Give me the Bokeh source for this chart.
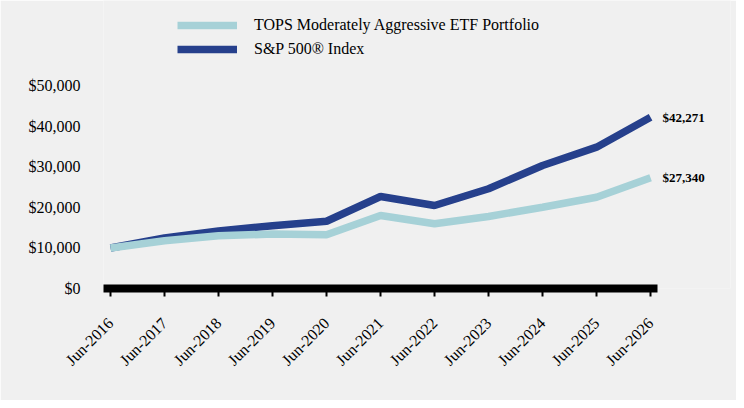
import math
from bokeh.plotting import figure
from bokeh.models import Range1d, FixedTicker, Legend, LegendItem, NumeralTickFormatter
from bokeh.core.properties import value
from bokeh.embed import file_html
from bokeh.resources import INLINE

# ---- data ----
periods = ["Jun-2016", "Jun-2017", "Jun-2018", "Jun-2019", "Jun-2020", "Jun-2021",
           "Jun-2022", "Jun-2023", "Jun-2024", "Jun-2025", "Jun-2026"]
tops_values = [10000, 11800, 13000, 13450, 13250, 18020, 15970, 17780, 20070, 22540, 27340]
sp500_values = [10000, 12500, 14200, 15500, 16600, 22720, 20490, 24620, 30370, 34890, 42271]
series_names = ["TOPS Moderately Aggressive ETF Portfolio", "S&P 500® Index"]
y_ticks = [0, 10000, 20000, 30000, 40000, 50000]
end_labels = ["$27,340", "$42,271"]

LIGHT = "#A6D1D7"
DARK = "#26408C"
BG = "#F0F0F0"
FONT = "Liberation Serif"

xs = list(range(len(periods)))
pad = 0.13
x_end = len(periods) - 1 + pad + 1.35

p = figure(width=736, height=400, output_backend="svg", toolbar_location=None,
           x_range=Range1d(-pad, x_end),
           y_range=Range1d(0, 71100),
           min_border_left=103, min_border_right=6, min_border_top=0, min_border_bottom=112)
p.background_fill_color = BG
p.border_fill_color = BG
p.outline_line_color = None
p.grid.visible = False

r_sp = p.line(xs, sp500_values, line_color=DARK, line_width=7.5)
r_tops = p.line(xs, tops_values, line_color=LIGHT, line_width=7.5)

# end labels
p.text(x=[xs[-1], xs[-1]], y=[tops_values[-1], sp500_values[-1]], text=end_labels,
       x_offset=12, text_baseline="middle", text_align="left",
       text_font=value(FONT), text_font_size="13px", text_font_style="bold",
       text_color="black")

# x axis
xa = p.xaxis[0]
xa.ticker = FixedTicker(ticks=xs)
xa.bounds = (-pad, len(periods) - 1 + pad)
xa.major_label_overrides = {i: s for i, s in enumerate(periods)}
xa.major_label_orientation = math.pi / 4
xa.axis_line_color = "black"
xa.axis_line_width = 8
xa.major_tick_line_color = "black"
xa.major_tick_line_width = 2
xa.major_tick_in = 0
xa.major_tick_out = 8
xa.minor_tick_line_color = None
xa.major_label_standoff = 24
xa.major_label_text_font = FONT
xa.major_label_text_font_size = "16px"
xa.major_label_text_color = "black"

# y axis
ya = p.yaxis[0]
ya.ticker = FixedTicker(ticks=y_ticks)
ya.formatter = NumeralTickFormatter(format="$0,0")
ya.axis_line_color = None
ya.major_tick_line_color = None
ya.minor_tick_line_color = None
ya.major_tick_in = 0
ya.major_tick_out = 0
ya.major_label_standoff = 23
ya.major_label_text_font = FONT
ya.major_label_text_font_size = "16px"
ya.major_label_text_color = "black"

legend = Legend(items=[LegendItem(label=series_names[0], renderers=[r_tops]),
                       LegendItem(label=series_names[1], renderers=[r_sp])],
                location=(74, 229))
legend.background_fill_alpha = 0
legend.border_line_alpha = 0
legend.padding = 0
legend.margin = 0
legend.spacing = 4
legend.glyph_width = 60
legend.glyph_height = 20
legend.label_height = 20
legend.label_standoff = 17
legend.label_text_font = FONT
legend.label_text_font_size = "16px"
legend.label_text_color = "black"
p.add_layout(legend)

open("out.html", "w").write(file_html(p, INLINE))
